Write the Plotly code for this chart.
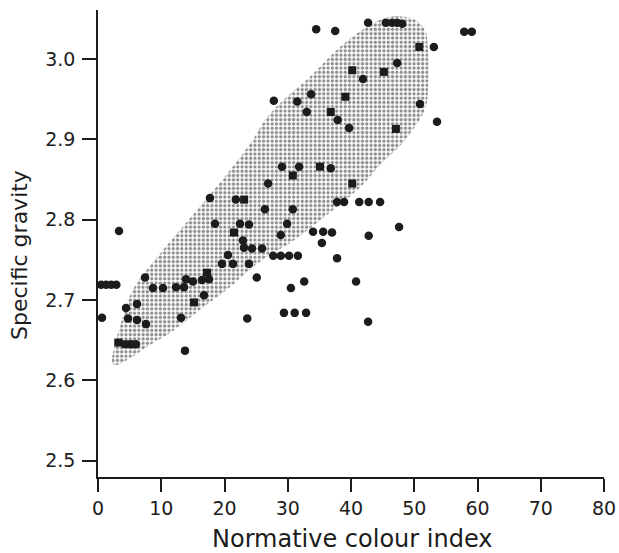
import plotly.graph_objects as go

# Circle-marker samples
circle_x = [3.32, 0.5, 1.3, 2.1, 2.9, 0.63, 5.3, 6.0, 4.43, 6.17, 4.74, 6.17, 7.59, 7.43,
            8.70, 10.28, 12.33, 13.60, 13.91, 15.02, 16.44, 17.55, 13.75, 13.12, 16.76,
            19.6, 21.34, 23.87, 20.55, 22.92, 23.08, 24.35, 25.93, 18.5, 22.45, 23.87,
            17.7, 21.8, 26.4, 26.9, 30.8, 29.9, 28.9, 27.7, 28.9, 30.2, 31.6, 25.1, 32.6,
            30.5, 23.6, 29.4, 31.1, 32.9, 34.0, 35.6, 37.0, 35.4, 37.8, 40.8, 37.8, 38.9,
            41.3, 42.8, 44.6, 47.6, 42.8, 42.7, 29.1, 31.8, 36.8, 34.5, 37.5, 42.7,
            45.5, 46.5, 47.3, 48.1, 57.9, 59.1, 53.1, 47.3, 41.9, 33.7, 27.8, 31.5,
            33.0, 37.9, 39.7, 50.9, 53.6]
circle_y = [2.786, 2.719, 2.719, 2.719, 2.719, 2.678, 2.645, 2.645, 2.690, 2.695, 2.677, 2.675, 2.670, 2.728,
            2.715, 2.715, 2.716, 2.716, 2.726, 2.723, 2.725, 2.726, 2.637, 2.678, 2.706,
            2.745, 2.745, 2.745, 2.756, 2.774, 2.765, 2.764, 2.764, 2.795, 2.795, 2.794,
            2.827, 2.825, 2.813, 2.845, 2.813, 2.795, 2.781, 2.755, 2.755, 2.755, 2.755, 2.728, 2.723,
            2.715, 2.677, 2.684, 2.684, 2.684, 2.785, 2.785, 2.784, 2.771, 2.752, 2.723, 2.822, 2.822,
            2.822, 2.822, 2.822, 2.791, 2.780, 2.673, 2.866, 2.866, 2.864, 3.037, 3.035, 3.045,
            3.045, 3.045, 3.045, 3.044, 3.034, 3.034, 3.015, 2.995, 2.975, 2.956, 2.948, 2.947,
            2.934, 2.924, 2.914, 2.944, 2.922]

# Square-marker samples
square_x = [3.2, 4.4, 15.18, 17.23, 21.5, 23.1, 30.8, 40.2, 35.1, 50.8, 40.2, 45.2, 39.1, 36.8, 47.1]
square_y = [2.647, 2.645, 2.697, 2.734, 2.784, 2.825, 2.855, 2.845, 2.866, 3.015, 2.986, 2.984, 2.953, 2.934, 2.913]

# Envelope of the stippled field
env_x = [2.21, 2.37, 3.48, 5.53, 10.28, 12.96, 15.65, 19.29, 24.19, 26.40, 28.77, 33.52, 38.26,
         42.53, 45.38, 47.75, 50.12, 51.70, 52.17, 52.17, 51.70, 48.22, 45.06, 41.42, 35.57,
         30.36, 26.72, 24.03, 20.40, 16.13, 11.38, 8.22, 4.74, 2.69, 2.21]
env_y = [2.623, 2.634, 2.667, 2.713, 2.762, 2.787, 2.812, 2.846, 2.896, 2.924, 2.945, 2.978, 3.015,
         3.040, 3.051, 3.053, 3.049, 3.036, 3.011, 2.961, 2.937, 2.896, 2.872, 2.840, 2.802,
         2.771, 2.754, 2.738, 2.713, 2.688, 2.659, 2.644, 2.626, 2.619, 2.623]

x_ticks = [0, 10, 20, 30, 40, 50, 60, 70, 80]
y_ticks = [2.5, 2.6, 2.7, 2.8, 2.9, 3.0]
y_tick_text = ["2.5", "2.6", "2.7", "2.8", "2.9", "3.0"]

FONT = "DejaVu Sans"
INK = "#1c1c1c"

fig = go.Figure()
fig.add_trace(go.Scatter(
    x=env_x, y=env_y, mode="lines", line=dict(width=0, shape="spline", smoothing=1.0),
    fill="toself", fillcolor="rgba(255,255,255,0)",
    fillpattern=dict(shape=".", size=4.3, solidity=0.45, fgcolor="#202020", bgcolor="white"),
    hoverinfo="skip", showlegend=False))
fig.add_trace(go.Scatter(
    x=circle_x, y=circle_y, mode="markers",
    marker=dict(symbol="circle", size=8.5, color=INK, line=dict(width=0)), showlegend=False))
fig.add_trace(go.Scatter(
    x=square_x, y=square_y, mode="markers",
    marker=dict(symbol="square", size=8, color=INK, line=dict(width=0)), showlegend=False))

fig.update_layout(
    width=619, height=553,
    margin=dict(l=98, r=15, t=10, b=76, autoexpand=False),
    paper_bgcolor="white", plot_bgcolor="white",
    font=dict(family=FONT, color=INK),
    xaxis=dict(range=[0, 80], tickvals=x_ticks, ticks="outside", ticklen=13, tickwidth=1.5,
               tickcolor=INK, showline=True, linecolor=INK, linewidth=1.5, showgrid=False,
               zeroline=False, tickfont=dict(family=FONT, size=19, color=INK),
               ticklabelstandoff=0, automargin=False, ticklabeloverflow="allow"),
    yaxis=dict(range=[2.4797, 3.061], tickvals=y_ticks, ticktext=y_tick_text, ticks="outside",
               ticklen=14, tickwidth=1.5, tickcolor=INK, showline=True, linecolor=INK,
               linewidth=1.5, showgrid=False, zeroline=False,
               tickfont=dict(family=FONT, size=19, color=INK), ticklabelstandoff=3,
               automargin=False, ticklabeloverflow="allow"),
    annotations=[
        dict(text="Normative colour index", xref="paper", yref="paper",
             x=(352 - 98) / 506, y=-(539 - 477) / 467, xanchor="center", yanchor="middle",
             showarrow=False, font=dict(family=FONT, size=24, color=INK)),
        dict(text="Specific gravity", xref="paper", yref="paper", textangle=-90,
             x=-(98 - 20) / 506, y=1 - (255 - 10) / 467, xanchor="center", yanchor="middle",
             showarrow=False, font=dict(family=FONT, size=22, color=INK)),
    ],
)

fig.write_html("out.html")
